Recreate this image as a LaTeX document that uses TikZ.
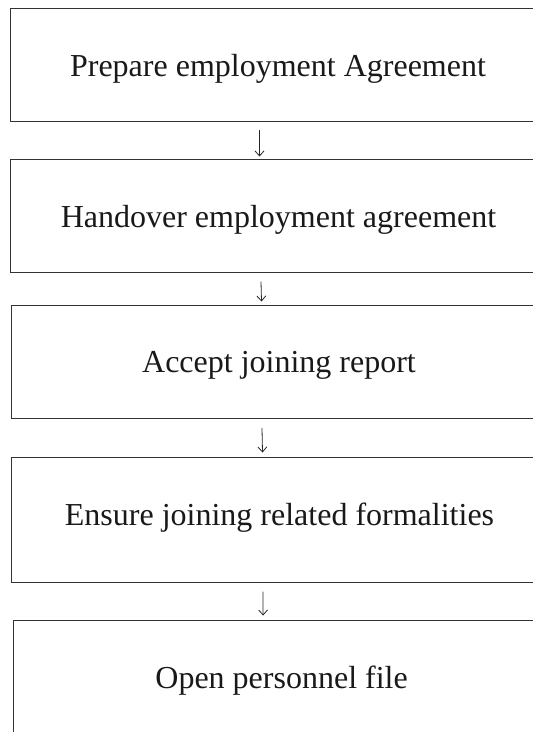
\documentclass[tikz,border=0pt]{standalone}
\usepackage{fontspec}
\setmainfont{Liberation Serif}
\usetikzlibrary{arrows.meta}
\definecolor{boxline}{HTML}{333333}
\tikzset{
  stepbox/.style={draw=boxline, line width=1pt, rectangle, minimum width=536pt,
    inner sep=0pt, font=\fontsize{32}{38}\selectfont, text=black!90,
    text height=21.2pt, text depth=0pt},
  flowarrow/.style={draw=black!85, line width=0.8pt, -{Straight Barb[length=5pt,width=9pt,line width=0.8pt]}}
}
\begin{document}
\begin{tikzpicture}[x=1pt,y=-1pt]
\useasboundingbox (0,0) rectangle (533,732);
\node[stepbox, minimum height=112.5pt, text height=23.7pt] (b1) at (278,64.75) {Prepare employment Agreement};
\node[stepbox, minimum height=113pt, text height=24.2pt] (b2) at (278.5,215.5) {Handover employment agreement};
\node[stepbox, minimum height=113pt, text height=22.2pt] (b3) at (279,361.5) {Accept joining report};
\node[stepbox, minimum height=125pt, text depth=10pt] (b4) at (279.5,519.5) {Ensure joining related formalities};
\node[stepbox, minimum height=124pt, text depth=9pt] (b5) at (281.6,682) {Open personnel file};
\draw[flowarrow] ([xshift=-18.5pt,yshift=-8pt]b1.south) -- ([xshift=-19pt,yshift=2pt]b2.north);
\draw[flowarrow] ([xshift=-17.5pt,yshift=-9pt]b2.south) -- ([xshift=-17.5pt,yshift=3pt]b3.north);
\draw[flowarrow] ([xshift=-17pt,yshift=-9.5pt]b3.south) -- ([xshift=-17pt,yshift=4pt]b4.north);
\draw[flowarrow] ([xshift=-16.5pt,yshift=-9pt]b4.south) -- ([xshift=-18.5pt,yshift=4pt]b5.north);
\end{tikzpicture}
\end{document}
